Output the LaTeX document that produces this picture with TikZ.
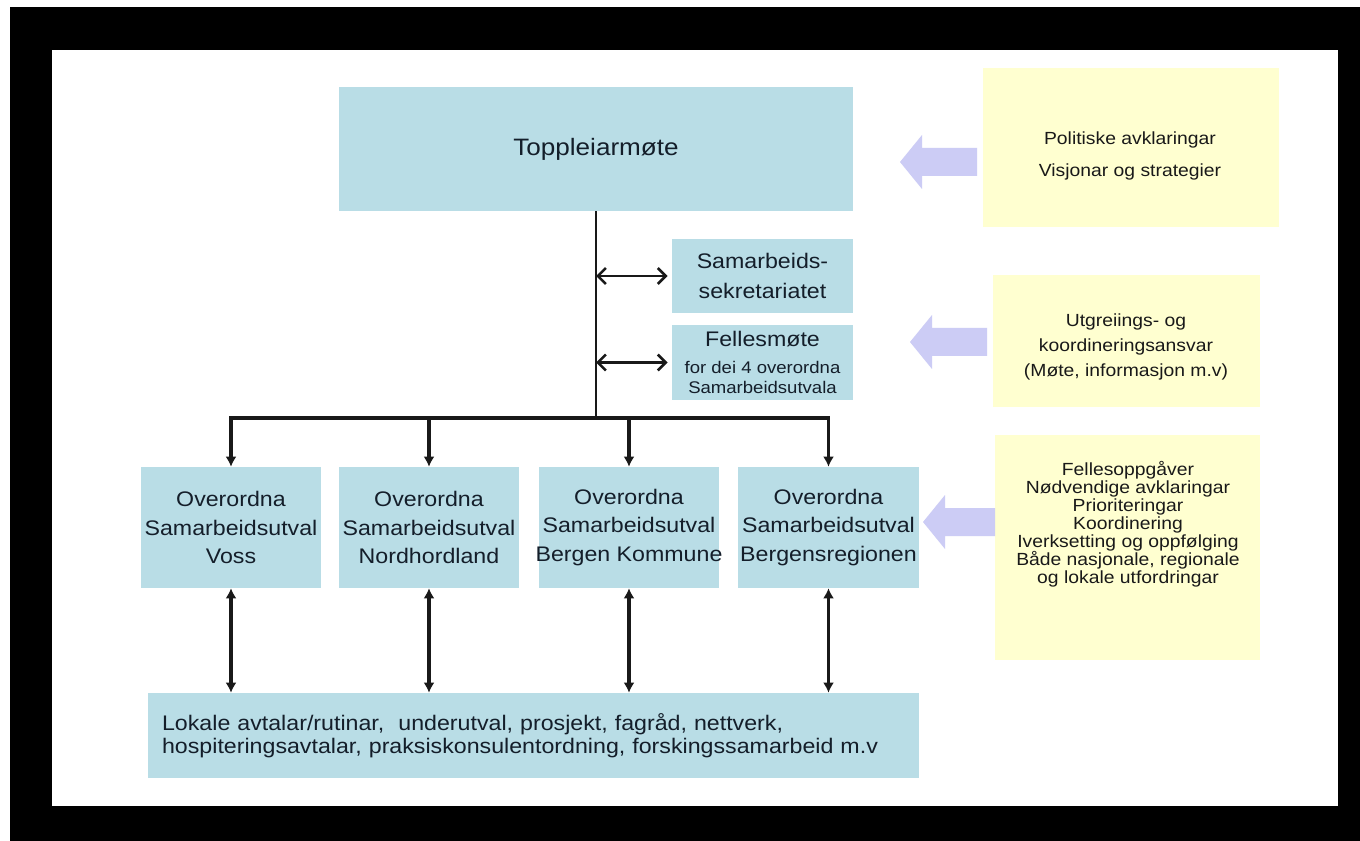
\documentclass[tikz,border=0pt]{standalone}
\usepackage{fontspec}
\setmainfont[FakeStretch=1.1]{Liberation Sans}
\usetikzlibrary{arrows.meta}

\definecolor{boxblue}{RGB}{185,221,230}
\definecolor{boxyellow}{RGB}{255,255,208}
\definecolor{pilfill}{RGB}{204,204,245}
\definecolor{tekst}{RGB}{20,30,42}

\tikzset{
    bluebox/.style={fill=boxblue, text=tekst, align=center, inner sep=0.5mm},
    utval/.style={bluebox, inner sep=0.2mm, minimum width=36.2mm, minimum height=24.2mm,
        font=\fontsize{12}{16.2}\selectfont},
    gulbox/.style={fill=boxyellow, inner sep=0pt},
    gultekst/.style={text=black!90, align=center, inner sep=0pt},
    pil/.style={line width=2pt, draw=black!90, -{Latex[length=2mm,width=2.2mm]}},
    dobbelpil/.style={line width=2pt, draw=black!90, {Latex[length=2mm,width=2.2mm]}-{Latex[length=2mm,width=2.2mm]}},
    sidepil/.style={line width=1.5pt, draw=black!90, shorten >=0.8mm,
        {Straight Barb[length=1.6mm,width=3.2mm]}-{Straight Barb[length=1.6mm,width=3.2mm]}}
}

\begin{document}
\begin{tikzpicture}[x=0.02cm, y=-0.02cm]
    % ramme
    \fill[white] (0,0) rectangle (1360,841);
    \fill[black] (10,7) rectangle (1360,841);
    \fill[white] (52,50) rectangle (1338,806);

    % blaa boksar
    \node[bluebox, minimum width=102.8mm, minimum height=24.8mm, font=\fontsize{13.5}{16}\selectfont] (topp) at (596,149) {Toppleiarmøte};
    \node[bluebox, minimum width=36.2mm, minimum height=14.8mm, font=\fontsize{12}{17.6}\selectfont] (sekr) at (762.5,276) {Samarbeids-\\sekretariatet};
    \node[bluebox, minimum width=36.2mm, minimum height=15mm, font=\fontsize{9.6}{11.9}\selectfont] (felles) at (762.5,362.5) {{\fontsize{12}{14}\selectfont Fellesmøte}\\[3.4pt]for dei 4 overordna\\Samarbeidsutvala};

    \node[utval] (voss) at (231,527.5) {Overordna\\Samarbeidsutval\\Voss};
    \node[utval] (nord) at (429,527.5) {Overordna\\Samarbeidsutval\\Nordhordland};
    \node[utval] (bkom) at (629,527.5) {Overordna\\Samarbeidsutval\\\makebox[34mm]{Bergen Kommune}};
    \node[utval] (breg) at (828.5,527.5) {Overordna\\Samarbeidsutval\\Bergensregionen};

    \node[bluebox, minimum width=154.2mm, minimum height=17mm, text width=148.6mm, align=left, inner xsep=2.8mm,
        font=\fontsize{12}{13}\selectfont] (lokal) at (533.5,735.5)
        {Lokale avtalar/rutinar,\ \ underutval, prosjekt, fagråd, nettverk,\\hospiteringsavtalar, praksiskonsulentordning, forskingssamarbeid m.v};

    % gule boksar
    \node[gulbox, minimum width=59.2mm, minimum height=31.8mm] (politikk) at (1131,147.5) {};
    \node[gultekst, font=\fontsize{10}{18.7}\selectfont] (politikktxt) at (1130,156) {Politiske avklaringar\\Visjonar og strategier};
    \node[gulbox, minimum width=53.4mm, minimum height=26.4mm] (utgreiing) at (1126.5,341) {};
    \node[gultekst, font=\fontsize{10}{14}\selectfont] (utgreiingtxt) at (1126,347) {Utgreiings- og\\koordineringsansvar\\(Møte,\ informasjon\ m.v)};
    \node[gulbox, minimum width=53mm, minimum height=45mm] (oppgaver) at (1127.5,547.5) {};
    \node[gultekst, font=\fontsize{10}{10.2}\selectfont] (oppgavertxt) at (1128,524) {Fellesoppgåver\\Nødvendige avklaringar\\Prioriteringar\\Koordinering\\Iverksetting og oppfølging\\Både nasjonale, regionale\\og lokale utfordringar};

    % blokkpiler
    \foreach \tx/\ty/\rx in {900/162/977, 910/342/987, 923/522/995}
        \fill[pilfill] (\rx,\ty-14) -- (\tx+22,\ty-14) -- (\tx+22,\ty-27) -- (\tx,\ty)
            -- (\tx+22,\ty+27) -- (\tx+22,\ty+14) -- (\rx,\ty+14) -- cycle;

    % linjer
    \coordinate (knute) at (596,418);
    \draw[line width=1.4pt, black!90] (topp.south) -- (knute);
    \draw[sidepil] (knute |- sekr.west) -- (sekr.west);
    \draw[sidepil] (knute |- felles.west) -- (felles.west);
    \foreach \utv in {voss,nord,bkom,breg}
        \draw[pil] (knute) -| (\utv.north);
    \foreach \utv in {voss,nord,bkom,breg}
        \draw[dobbelpil] (\utv.south) -- (\utv.south |- lokal.north);
\end{tikzpicture}
\end{document}
